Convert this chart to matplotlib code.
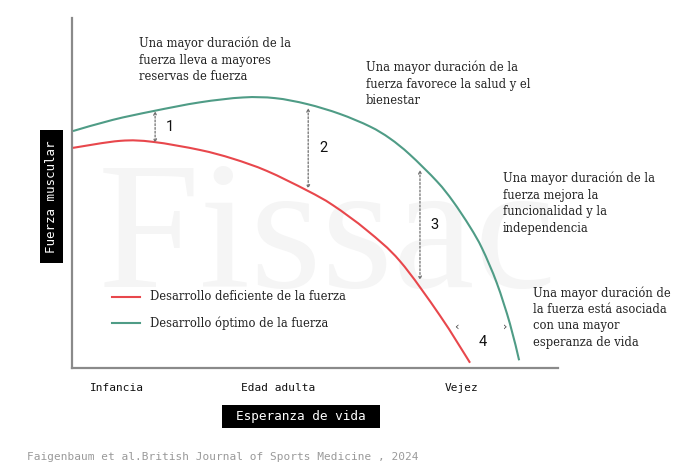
import matplotlib
matplotlib.use("Agg")
import matplotlib.pyplot as plt
from matplotlib.path import Path
from matplotlib.patches import PathPatch, Rectangle
import numpy as np

# ---- data (arbitrary units: x = lifespan 0..100, y = muscle strength 0..100)
optimal_x = [0.2, 8.4, 16.7, 26.3, 35.2, 41.8, 48.4, 55.1, 61.3, 65.4, 69.5, 75.1,
             78.4, 81.9, 84.4, 87.4, 90.1, 92.0]
optimal_y = [67.7, 70.9, 73.4, 75.9, 77.3, 77.1, 75.4, 72.6, 69.0, 65.6, 61.0, 53.3,
             47.6, 40.3, 34.1, 24.3, 12.7, 2.2]
deficient_x = [0.2, 9.9, 16.7, 26.3, 33.1, 40.1, 48.4, 53.7, 60.7, 67.5, 75.7, 81.9]
deficient_y = [62.9, 64.9, 64.6, 62.3, 59.8, 56.3, 50.7, 46.5, 39.3, 30.5, 15.0, 1.5]

gap_labels = ["1", "2", "3"]
gap_x = [17.1, 48.6, 71.6]
gap_top = [73.4, 74.3, 56.6]
gap_bottom = [64.3, 51.2, 25.1]

series_names = ["Desarrollo deficiente de la fuerza", "Desarrollo óptimo de la fuerza"]
stage_labels = ["Infancia", "Edad adulta", "Vejez"]

notes = [
    "Una mayor duración de la\nfuerza lleva a mayores\nreservas de fuerza",
    "Una mayor duración de la\nfuerza favorece la salud y el\nbienestar",
    "Una mayor duración de la\nfuerza mejora la\nfuncionalidad y la\nindependencia",
    "Una mayor duración de\nla fuerza está asociada\ncon una mayor\nesperanza de vida",
]

RED = "#e8474c"
GREEN = "#4f9c86"
W, H = 680, 471


def fx(px):
    return px / W


def fy(py):
    return 1 - py / H


def smooth_path(xs, ys):
    """Bezier path through the read points (Catmull-Rom control handles)."""
    p = np.column_stack([xs, ys]).astype(float)
    verts = [p[0]]
    codes = [Path.MOVETO]
    n = len(p)
    for i in range(n - 1):
        p0 = p[i - 1] if i > 0 else p[i]
        p1, p2 = p[i], p[i + 1]
        p3 = p[i + 2] if i + 2 < n else p[i + 1]
        c1 = p1 + (p2 - p0) / 6.0
        c2 = p2 - (p3 - p1) / 6.0
        verts += [c1, c2, p2]
        codes += [Path.CURVE4] * 3
    return Path(verts, codes)


fig = plt.figure(figsize=(6.8, 4.71), dpi=100)
fig.patch.set_facecolor("white")
ax = fig.add_axes([fx(72), fy(368), (558 - 72) / W, (368 - 18) / H])
ax.set_xlim(0, 100)
ax.set_ylim(0, 100)
ax.set_xticks([])
ax.set_yticks([])
for s in ["top", "right"]:
    ax.spines[s].set_visible(False)
for s in ["left", "bottom"]:
    ax.spines[s].set_color("#8a8a8a")
    ax.spines[s].set_linewidth(1.6)

# watermark
ax.text(52.5, 23.1, "Fissac", fontsize=132, family="Liberation Serif",
        color="#f5f5f5", ha="center", va="baseline", zorder=0)

serif = "DejaVu Serif"
mono = "DejaVu Sans Mono"

ax.add_patch(PathPatch(smooth_path(deficient_x, deficient_y), fill=False,
                       ec=RED, lw=1.5, zorder=3))
ax.add_patch(PathPatch(smooth_path(optimal_x, optimal_y), fill=False,
                       ec=GREEN, lw=1.5, zorder=3))

for lab, x, y0, y1 in zip(gap_labels, gap_x, gap_top, gap_bottom):
    ax.annotate("", xy=(x, y1), xytext=(x, y0),
                arrowprops=dict(arrowstyle="<->,head_length=0.2,head_width=0.1",
                                linestyle=(0, (1.5, 1.5)), color="#6f6f6f", lw=0.9,
                                shrinkA=0, shrinkB=0))
    ax.text(x + 2.2, (y0 + y1) / 2, lab, fontsize=10.5, family="Roboto",
            ha="left", va="center", color="#111111")

# gap 4 (horizontal)
ax.text(79.0, 11.7, "‹", fontsize=8, ha="center", va="center", color="#444444")
ax.text(89.1, 11.7, "›", fontsize=8, ha="center", va="center", color="#444444")
ax.text(84.6, 7.4, "4", fontsize=10.5, family="Roboto", ha="center", va="center", color="#111111")

# notes
note_pos = [(139, 37), (366, 61), (503, 172), (533, 286)]
for txt, (px, py) in zip(notes, note_pos):
    fig.text(fx(px), fy(py), txt, fontsize=8.3, family=serif, ha="left", va="top",
             color="#222222", linespacing=1.35)

# legend
for i, (name, col) in enumerate(zip(series_names, [RED, GREEN])):
    ly = 297 + i * 26
    fig.lines.append(plt.Line2D([fx(112), fx(140)], [fy(ly), fy(ly)], color=col, lw=1.5,
                                transform=fig.transFigure))
    fig.text(fx(150), fy(ly), name, fontsize=8.3, family=serif, ha="left", va="center",
             color="#222222")

# stage labels
for lab, px in zip(stage_labels, [117, 278, 462]):
    fig.text(fx(px), fy(388), lab, fontsize=8, family=mono, ha="center", va="center",
             color="#111111")

# axis titles in black boxes
fig.patches.append(Rectangle((fx(222), fy(428)), (380 - 222) / W, (428 - 405) / H,
                             transform=fig.transFigure, fc="black", ec="none"))
fig.text(fx(301), fy(416.5), "Esperanza de vida", fontsize=9.2, family=mono, color="white",
         ha="center", va="center")
fig.patches.append(Rectangle((fx(40), fy(263)), (63 - 40) / W, (263 - 130) / H,
                             transform=fig.transFigure, fc="black", ec="none"))
fig.text(fx(51.5), fy(196.5), "Fuerza muscular", fontsize=9, family=mono, color="white",
         ha="center", va="center", rotation=90)

fig.text(fx(27), fy(457), "Faigenbaum et al.British Journal of Sports Medicine , 2024",
         fontsize=8, family=mono, color="#9a9a9a", ha="left", va="center")

fig.savefig("out.png", dpi=100, facecolor="white")
